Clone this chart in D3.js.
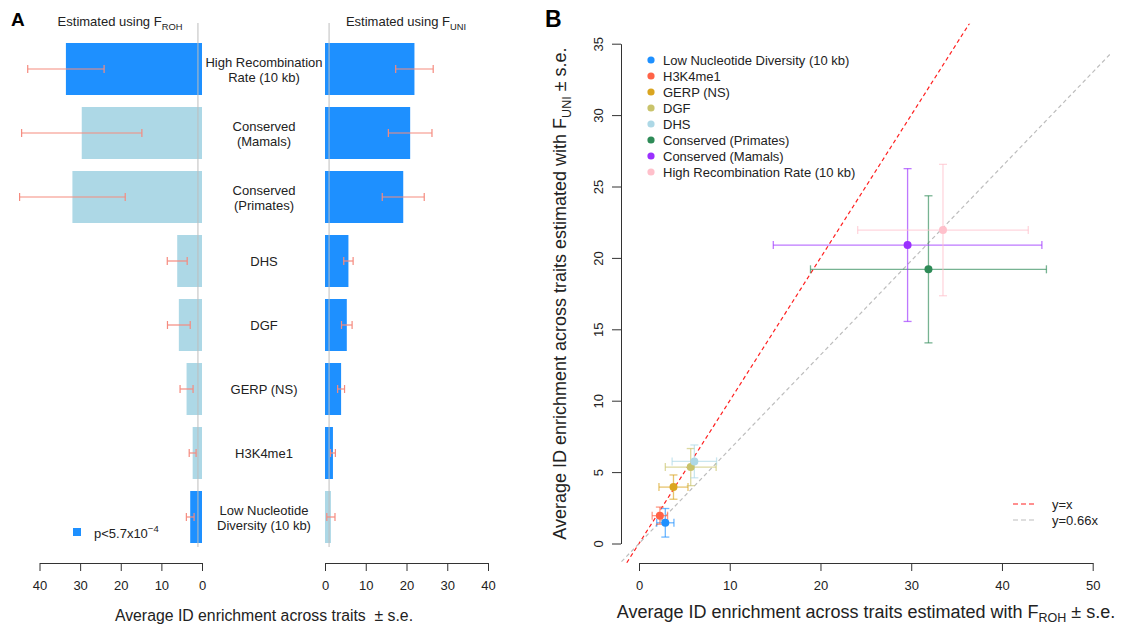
<!DOCTYPE html>
<html>
<head>
<meta charset="utf-8">
<script src="https://cdn.jsdelivr.net/npm/d3@7"></script>
<style>
  body { margin: 0; background: #fff; }
  svg { font-family: "Liberation Sans", Arial, sans-serif; }
  text { fill: #222; }
</style>
</head>
<body>
<div id="chart"></div>
<script>
// categories, in the order of the panel B legend
const categories = ["Low Nucleotide Diversity (10 kb)", "H3K4me1", "GERP (NS)", "DGF", "DHS",
    "Conserved (Primates)", "Conserved (Mamals)", "High Recombination Rate (10 kb)"];
const barLabels = [["Low Nucleotide", "Diversity (10 kb)"], ["H3K4me1"], ["GERP (NS)"], ["DGF"], ["DHS"],
    ["Conserved", "(Primates)"], ["Conserved", "(Mamals)"], ["High Recombination", "Rate (10 kb)"]];
const rohMean = [2.9, 2.3, 3.8, 5.7, 6.1, 31.9, 29.6, 33.5];
const rohSE = [0.95, 0.85, 1.6, 2.8, 2.45, 13.0, 14.8, 9.4];
const uniMean = [1.45, 1.95, 3.95, 5.35, 5.75, 19.2, 20.9, 21.95];
const uniSE = [1.0, 0.6, 0.85, 1.3, 1.15, 5.15, 5.35, 4.6];
const rohSig = [true, false, false, false, false, false, false, true];
const uniSig = [false, true, true, true, true, true, true, true];
const pointColors = ["#1E90FF", "#FF6347", "#DAA520", "#C9C36B", "#ADD8E6", "#2E8B57", "#9B30FF", "#FFC0CB"];
const ticksA = [0, 10, 20, 30, 40];
const ticksBx = [0, 10, 20, 30, 40, 50];
const ticksBy = [0, 5, 10, 15, 20, 25, 30, 35];
const refLines = [{ label: "y=x", slope: 1, color: "#FF2020" }, { label: "y=0.66x", slope: 0.66, color: "#BDBDBD" }];

const dark = "#1E90FF", light = "#ADD8E6", errCol = "#F58B7F";

const data = categories.map((c, i) => ({
    name: c, lines: barLabels[i], roh: rohMean[i], rohSe: rohSE[i], uni: uniMean[i], uniSe: uniSE[i],
    rohSig: rohSig[i], uniSig: uniSig[i], color: pointColors[i]
}));

const svg = d3.select("#chart").append("svg").attr("width", 1125).attr("height", 627);

// ---------------- panel A ----------------
const xL = d3.scaleLinear().domain([0, 40]).range([202, 39.5]);
const xR = d3.scaleLinear().domain([0, 40]).range([325, 488]);
const yA = d3.scaleBand().domain(categories.slice().reverse()).range([37, 549])
    .paddingInner(0.1875).paddingOuter(0.09375);

const gA = svg.append("g");

gA.selectAll("rect.l").data(data).join("rect")
    .attr("x", d => xL(d.roh)).attr("width", d => xL(0) - xL(d.roh))
    .attr("y", d => yA(d.name)).attr("height", yA.bandwidth())
    .attr("fill", d => d.rohSig ? dark : light);
gA.selectAll("rect.r").data(data).join("rect")
    .attr("x", xR(0)).attr("width", d => xR(d.uni) - xR(0))
    .attr("y", d => yA(d.name)).attr("height", yA.bandwidth())
    .attr("fill", d => d.uniSig ? dark : light);

// reference line at enrichment = 1
[xL, xR].forEach(s => {
    gA.append("line").attr("x1", s(1)).attr("x2", s(1)).attr("y1", 23).attr("y2", 547)
        .attr("stroke", "#BEBEBE").attr("stroke-width", 1);
});

function hErr(g, scale, get, se) {
    const e = g.append("g").attr("stroke", errCol).attr("stroke-width", 1.2);
    data.forEach(d => {
        const cy = yA(d.name) + yA.bandwidth() / 2;
        const a = scale(get(d) - se(d)), b = scale(get(d) + se(d));
        e.append("line").attr("x1", a).attr("x2", b).attr("y1", cy).attr("y2", cy);
        e.append("line").attr("x1", a).attr("x2", a).attr("y1", cy - 4).attr("y2", cy + 4);
        e.append("line").attr("x1", b).attr("x2", b).attr("y1", cy - 4).attr("y2", cy + 4);
    });
}
hErr(gA, xL, d => d.roh, d => d.rohSe);
hErr(gA, xR, d => d.uni, d => d.uniSe);

// category labels
data.forEach(d => {
    const cy = yA(d.name) + yA.bandwidth() / 2;
    const t = gA.append("text").attr("text-anchor", "middle").attr("font-size", 13);
    if (d.lines.length === 1) {
        t.append("tspan").attr("x", 264).attr("y", cy + 4.5).text(d.lines[0]);
    } else {
        t.append("tspan").attr("x", 264).attr("y", cy - 2.5).text(d.lines[0]);
        t.append("tspan").attr("x", 264).attr("y", cy + 13).text(d.lines[1]);
    }
});

function styleAxis(g) {
    g.selectAll("path.domain").attr("stroke", "#333");
    g.selectAll(".tick line").attr("stroke", "#333");
    g.selectAll(".tick text").attr("font-size", 13).attr("fill", "#222");
}
gA.append("g").attr("transform", "translate(0,563)")
    .call(d3.axisBottom(xL).tickValues(ticksA).tickSize(8).tickSizeOuter(0).tickPadding(10))
    .call(styleAxis).attr("font-family", null);
gA.append("g").attr("transform", "translate(0,563)")
    .call(d3.axisBottom(xR).tickValues(ticksA).tickSize(8).tickSizeOuter(0).tickPadding(10))
    .call(styleAxis).attr("font-family", null);

function subText(g, x, y, size, main, sub, anchor) {
    const t = g.append("text").attr("x", x).attr("y", y).attr("font-size", size).attr("text-anchor", anchor || "middle");
    t.append("tspan").text(main);
    t.append("tspan").attr("font-size", size * 0.72).attr("dy", size * 0.28).text(sub);
    return t;
}
subText(gA, 120, 26, 13, "Estimated using F", "ROH");
subText(gA, 406, 26, 13, "Estimated using F", "UNI");
gA.append("text").attr("x", 264).attr("y", 621).attr("text-anchor", "middle").attr("font-size", 15.8)
    .text("Average ID enrichment across traits \u00A0\u00B1 s.e.");
gA.append("text").attr("x", 11).attr("y", 26).attr("font-size", 19).attr("font-weight", "bold")
    .style("fill", "#000").text("A");

// legend panel A
gA.append("rect").attr("x", 73).attr("y", 528).attr("width", 8).attr("height", 8).attr("fill", dark);
const lt = gA.append("text").attr("x", 94).attr("y", 538).attr("font-size", 13);
lt.append("tspan").text("p<5.7x10");
lt.append("tspan").attr("font-size", 9.5).attr("dy", -6).text("\u22124");

// ---------------- panel B ----------------
const xB = d3.scaleLinear().domain([0, 50]).range([639, 1092.7]);
const yB = d3.scaleLinear().domain([0, 35]).range([543.5, 43.7]);
const gB = svg.append("g");

gB.append("defs").append("clipPath").attr("id", "plotB").append("rect")
    .attr("x", xB(-2)).attr("y", yB(36.4)).attr("width", xB(52) - xB(-2)).attr("height", yB(-1.4) - yB(36.4));

gB.append("g").attr("transform", "translate(0,563)")
    .call(d3.axisBottom(xB).tickValues(ticksBx).tickSize(8).tickSizeOuter(0).tickPadding(10))
    .call(styleAxis).attr("font-family", null);
const yAx = gB.append("g").attr("transform", "translate(621,0)")
    .call(d3.axisLeft(yB).tickValues(ticksBy).tickSize(9).tickSizeOuter(0))
    .call(styleAxis).attr("font-family", null);
yAx.selectAll(".tick text").attr("x", null).attr("dy", null).attr("text-anchor", "middle")
    .attr("transform", "translate(-18,0) rotate(-90)");

// reference lines
const lineG = gB.append("g").attr("clip-path", "url(#plotB)");
refLines.forEach(r => {
    lineG.append("line")
        .attr("x1", xB(-3)).attr("y1", yB(-3 * r.slope))
        .attr("x2", xB(60)).attr("y2", yB(60 * r.slope))
        .attr("stroke", r.color).attr("stroke-width", 1.2).attr("stroke-dasharray", "4,3");
});

// error bars + points
const eb = gB.append("g").attr("stroke-width", 1.3).attr("stroke-opacity", 0.65);
data.forEach(d => {
    const cx = xB(d.roh), cy = yB(d.uni);
    const x0 = xB(d.roh - d.rohSe), x1 = xB(d.roh + d.rohSe);
    const y0 = yB(d.uni - d.uniSe), y1 = yB(d.uni + d.uniSe);
    const g = eb.append("g").attr("stroke", d.color);
    g.append("line").attr("x1", x0).attr("x2", x1).attr("y1", cy).attr("y2", cy);
    g.append("line").attr("x1", x0).attr("x2", x0).attr("y1", cy - 4).attr("y2", cy + 4);
    g.append("line").attr("x1", x1).attr("x2", x1).attr("y1", cy - 4).attr("y2", cy + 4);
    g.append("line").attr("x1", cx).attr("x2", cx).attr("y1", y0).attr("y2", y1);
    g.append("line").attr("x1", cx - 4).attr("x2", cx + 4).attr("y1", y0).attr("y2", y0);
    g.append("line").attr("x1", cx - 4).attr("x2", cx + 4).attr("y1", y1).attr("y2", y1);
});
gB.selectAll("circle.pt").data(data).join("circle")
    .attr("cx", d => xB(d.roh)).attr("cy", d => yB(d.uni)).attr("r", 4)
    .attr("fill", d => d.color);

// legend of categories
const leg = gB.append("g");
data.forEach((d, i) => {
    const cy = 60 + i * 16;
    leg.append("circle").attr("cx", 651).attr("cy", cy).attr("r", 3.6).attr("fill", d.color);
    leg.append("text").attr("x", 663).attr("y", cy + 4.6).attr("font-size", 13).text(d.name);
});
// legend of lines
refLines.forEach((r, i) => {
    const cy = 504 + i * 16;
    leg.append("line").attr("x1", 1013).attr("x2", 1037).attr("y1", cy).attr("y2", cy)
        .attr("stroke", r.color).attr("stroke-width", 1.2).attr("stroke-dasharray", "5,3");
    leg.append("text").attr("x", 1052).attr("y", cy + 4.6).attr("font-size", 13).text(r.label);
});

// titles
const xt = gB.append("text").attr("x", 866).attr("y", 618).attr("text-anchor", "middle").attr("font-size", 18);
xt.append("tspan").text("Average ID enrichment across traits estimated with F");
xt.append("tspan").attr("font-size", 12.5).attr("dy", 4).text("ROH");
xt.append("tspan").attr("dy", -4).text(" \u00B1 s.e.");

const yt = gB.append("text").attr("transform", "translate(566,293.6) rotate(-90)")
    .attr("text-anchor", "middle").attr("font-size", 18);
yt.append("tspan").text("Average ID enrichment across traits estimated with F");
yt.append("tspan").attr("font-size", 12.5).attr("dy", 5).text("UNI");
yt.append("tspan").attr("dy", -5).text(" \u00B1 s.e.");

gB.append("text").attr("x", 545).attr("y", 27).attr("font-size", 23).attr("font-weight", "bold")
    .style("fill", "#000").text("B");
</script>
</body>
</html>
